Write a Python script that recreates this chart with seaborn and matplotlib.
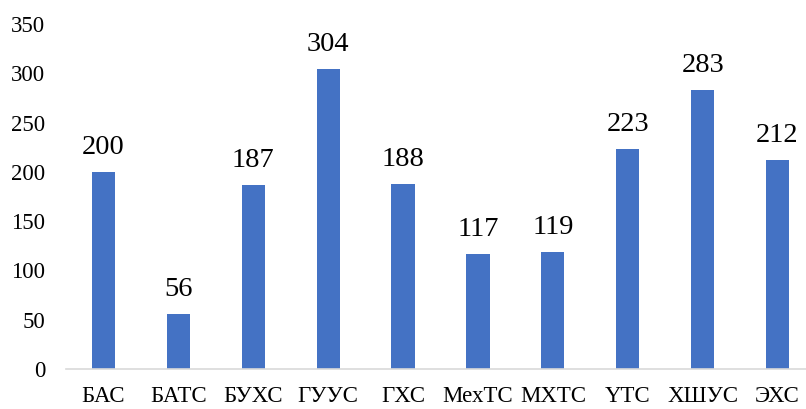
import matplotlib
matplotlib.use("Agg")
import matplotlib.pyplot as plt
import seaborn as sns
import pandas as pd
import numpy as np

categories = ["БАС", "БАТС", "БУХС", "ГУУС", "ГХС", "МехТС", "МХТС", "ҮТС", "ХШУС", "ЭХС"]
values = [200, 56, 187, 304, 188, 117, 119, 223, 283, 212]
y_ticks = [0, 50, 100, 150, 200, 250, 300, 350]

sns.set_theme(style="white")
plt.rcParams['font.family'] = ['Liberation Serif', 'DejaVu Serif']

df = pd.DataFrame({"cat": categories, "val": values})

W, H = 806, 409
fig = plt.figure(figsize=(W / 100, H / 100), dpi=100)
ax = fig.add_axes([66 / W, (H - 369) / H, (815 - 66) / W, (369 - 24) / H])

sns.barplot(data=df, x="cat", y="val", color="#4472C4", width=0.31, ax=ax,
            saturation=1, edgecolor="none")

ax.set_ylim(0, 350)
ax.set_xlim(-0.5, len(categories) - 0.5)
ax.set_yticks(y_ticks)
ax.set_yticklabels([str(t) for t in y_ticks], fontsize=16.5, color="#000000")
ax.set_xlabel("")
ax.set_ylabel("")

for i, v in enumerate(values):
    ax.annotate(str(v), (i, v), xytext=(0, 13), textcoords="offset points",
                ha="center", va="baseline", fontsize=20.5, color="#000000")

for s in ["top", "right", "left"]:
    ax.spines[s].set_visible(False)
ax.spines["bottom"].set_color("#D9D9D9")
ax.spines["bottom"].set_linewidth(1.2)

ax.tick_params(axis="y", length=0, pad=15)
ax.tick_params(axis="x", which="major", length=0, pad=12, labelsize=16.5, labelcolor="#000000")
ax.set_xticks(np.arange(-0.5, len(categories) + 0.5, 1), minor=True)
ax.tick_params(axis="x", which="minor", length=6, width=1.2, color="#D9D9D9", direction="out")
ax.grid(False)

fig.savefig("out.png", dpi=100)
